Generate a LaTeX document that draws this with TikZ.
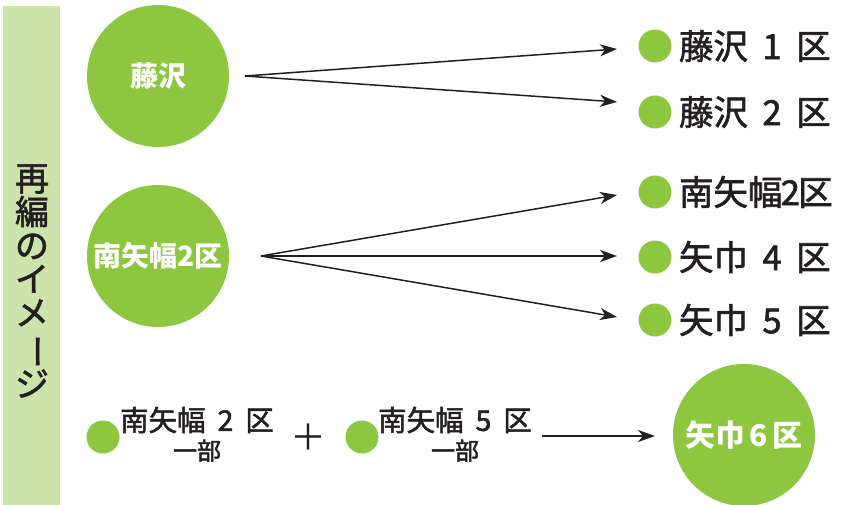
\documentclass[tikz,border=0pt]{standalone}
\usepackage{fontspec}
\setmainfont{Noto Sans CJK JP}
\newfontfamily\medjp[FakeBold=1.8]{Noto Sans CJK JP}
\usetikzlibrary{arrows.meta,positioning}
\definecolor{leafgreen}{HTML}{8DC63F}
\definecolor{palegreen}{HTML}{CCE3AB}
\definecolor{inkgray}{HTML}{231F20}
\newcommand{\gap}{\hspace{0.42em}}

\begin{document}
\begin{tikzpicture}[x=1pt, y=-1pt, ->, >={Stealth[length=17pt,width=12pt,inset=5pt]}, line width=1.5pt, draw=inkgray, text=inkgray]
\tikzstyle{bigdisc}=[circle,fill=leafgreen,minimum size=142pt,inner sep=0pt,text=white,font=\fontsize{28}{28}\selectfont\bfseries]
\tikzstyle{dot}=[circle,fill=leafgreen,minimum size=33pt,inner sep=0pt]
\tikzstyle{item}=[inner sep=0pt,font=\medjp\fontsize{34.5}{34.5}\selectfont]
\tikzstyle{part}=[inner sep=0pt,font=\medjp\fontsize{28.5}{28.5}\selectfont]
\tikzstyle{partsub}=[inner sep=0pt,font=\medjp\fontsize{24}{24}\selectfont]
\useasboundingbox (0,0) rectangle (848,505);
% title bar
\fill[palegreen] (3,6) rectangle (60,505);
\node[inner sep=0pt,align=center,font=\medjp\fontsize{34}{33.6}\selectfont] (title) at (32,281)
  {再\\編\\の\\イ\\メ\\\rotatebox[origin=c]{-90}{ー}\\ジ};
% districts before
\node[bigdisc] (fuji) at (158,76)  {藤沢};
\node[bigdisc] (minami) at (158,256) {南矢幅2区};
% districts after
\node[dot] (d1) at (655,46)  {};
\node[dot] (d2) at (655,112) {};
\node[dot] (d3) at (655,192) {};
\node[dot] (d4) at (655,257) {};
\node[dot] (d5) at (655,320) {};
\node[item,right=6pt of d1] (l1) {藤沢\gap{}1\gap{}区};
\node[item,right=6pt of d2] (l2) {藤沢\gap{}2\gap{}区};
\node[item,right=6pt of d3] (l3) {南矢幅\hspace{-0.05em}2\hspace{-0.05em}区};
\node[item,right=6pt of d4] (l4) {矢巾\gap{}4\gap{}区};
\node[item,right=6pt of d5] (l5) {矢巾\gap{}5\gap{}区};
% merge
\node[dot] (b1) at (103,437) {};
\node[part] (p1) at (197,420) {南矢幅\gap{}2\gap{}区};
\node[partsub,below=5pt of p1] (p1sub) {一部};
\node[inner sep=0pt,font=\fontsize{36}{36}\selectfont] (plus) at (308,437) {＋};
\node[dot] (b2) at (362,437) {};
\node[part] (p2) at (455,420) {南矢幅\gap{}5\gap{}区};
\node[partsub,below=5pt of p2] (p2sub) {一部};
\node[bigdisc,font=\fontsize{30}{30}\selectfont\bfseries] (yahaba) at (744,435) {矢巾\hspace{0.15em}6\hspace{0.15em}区};
% arrows
\coordinate (fujiout) at (245,76);
\coordinate (minout) at (261,256);
\coordinate (mergeout) at (542,436);
\coordinate (t1) at (617,49);
\coordinate (t2) at (617,102);
\coordinate (t3) at (617,195);
\coordinate (t4) at (617,256);
\coordinate (t5) at (617,317);
\coordinate (t6) at (655,436);
\path
(fujiout) edge (t1)
          edge (t2)
(minout)  edge (t3)
          edge (t4)
          edge (t5)
(mergeout) edge (t6);
\end{tikzpicture}
\end{document}
